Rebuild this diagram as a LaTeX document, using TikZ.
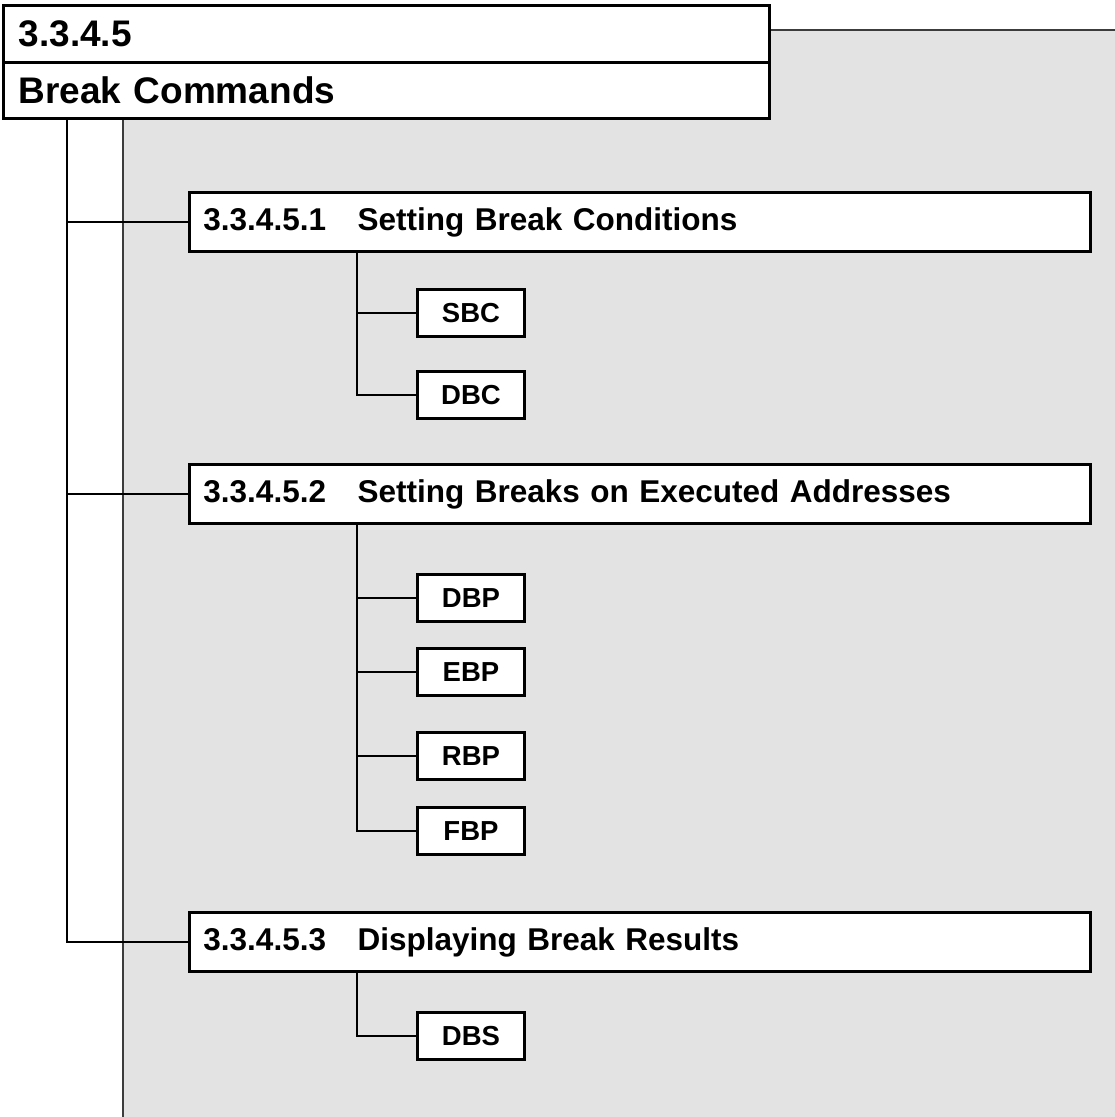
\documentclass[tikz,border=0pt]{standalone}
\usepackage{fontspec}
\setmainfont{Liberation Sans}
\definecolor{panelgray}{HTML}{E3E3E3}
\definecolor{edgegray}{HTML}{3C3C3C}
\begin{document}
\begin{tikzpicture}[
    x=1pt, y=-1pt,
    titlebox/.style={
      draw,
      line width=3.2pt,
      fill=white,
      anchor=north west,
      minimum width=766pt,
      minimum height=56.5pt,
      inner xsep=15pt,
      text width=736pt,
      align=left,
      font=\fontsize{37}{40}\selectfont\bfseries
    },
    secbox/.style={
      draw,
      line width=2.9pt,
      fill=white,
      anchor=north west,
      minimum width=901pt,
      minimum height=59pt,
      inner xsep=14pt,
      text width=873pt,
      align=left,
      font=\fontsize{31.5}{34}\selectfont\bfseries
    },
    cmdbox/.style={
      draw,
      line width=2.9pt,
      fill=white,
      anchor=north west,
      minimum width=107pt,
      minimum height=47pt,
      inner sep=0pt,
      font=\fontsize{27.5}{30}\selectfont\bfseries
    },
    link/.style={line width=2.6pt}
  ]
  \useasboundingbox (0,0) rectangle (1115,1117);

  % shaded panel behind the tree
  \fill[panelgray] (123,30) rectangle (1115,1117);
  \draw[edgegray, line width=1.6pt] (768,30) -- (1115,30);
  \draw[edgegray, line width=1.6pt] (123,117) -- (123,1117);

  % heading
  \node[titlebox] (number) at (2,4) {3.3.4.5};
  \node[titlebox] (title) at (2,60.5) {Break Commands};

  % sections
  \node[secbox] (sec1) at (188,191)
    {3.3.4.5.1\hspace{1em}Setting Break Conditions};
  \node[secbox] (sec2) at (188,463)
    {3.3.4.5.2\hspace{1em}Setting Breaks on Executed Addresses};
  \node[secbox] (sec3) at (188,911)
    {3.3.4.5.3\hspace{1em}Displaying Break Results};

  % commands
  \node[cmdbox] (sbc) at (416,288) {SBC};
  \node[cmdbox] (dbc) at (416,370) {DBC};
  \node[cmdbox] (dbp) at (416,573) {DBP};
  \node[cmdbox] (ebp) at (416,647) {EBP};
  \node[cmdbox] (rbp) at (416,731) {RBP};
  \node[cmdbox] (fbp) at (416,806) {FBP};
  \node[cmdbox] (dbs) at (416,1011) {DBS};

  % tree lines
  \coordinate (trunk) at (67,117);
  \coordinate (br1) at ([xshift=169pt]sec1.south west);
  \coordinate (br2) at ([xshift=169pt]sec2.south west);
  \coordinate (br3) at ([xshift=169pt]sec3.south west);

  \draw[link] (trunk) |- (sec1.west);
  \draw[link] (trunk) |- (sec2.west);
  \draw[link] (trunk) |- (sec3.west);

  \draw[link] (br1) |- (sbc.west);
  \draw[link] (br1) |- (dbc.west);
  \draw[link] (br2) |- (dbp.west);
  \draw[link] (br2) |- (ebp.west);
  \draw[link] (br2) |- (rbp.west);
  \draw[link] (br2) |- (fbp.west);
  \draw[link] (br3) |- (dbs.west);
\end{tikzpicture}
\end{document}
